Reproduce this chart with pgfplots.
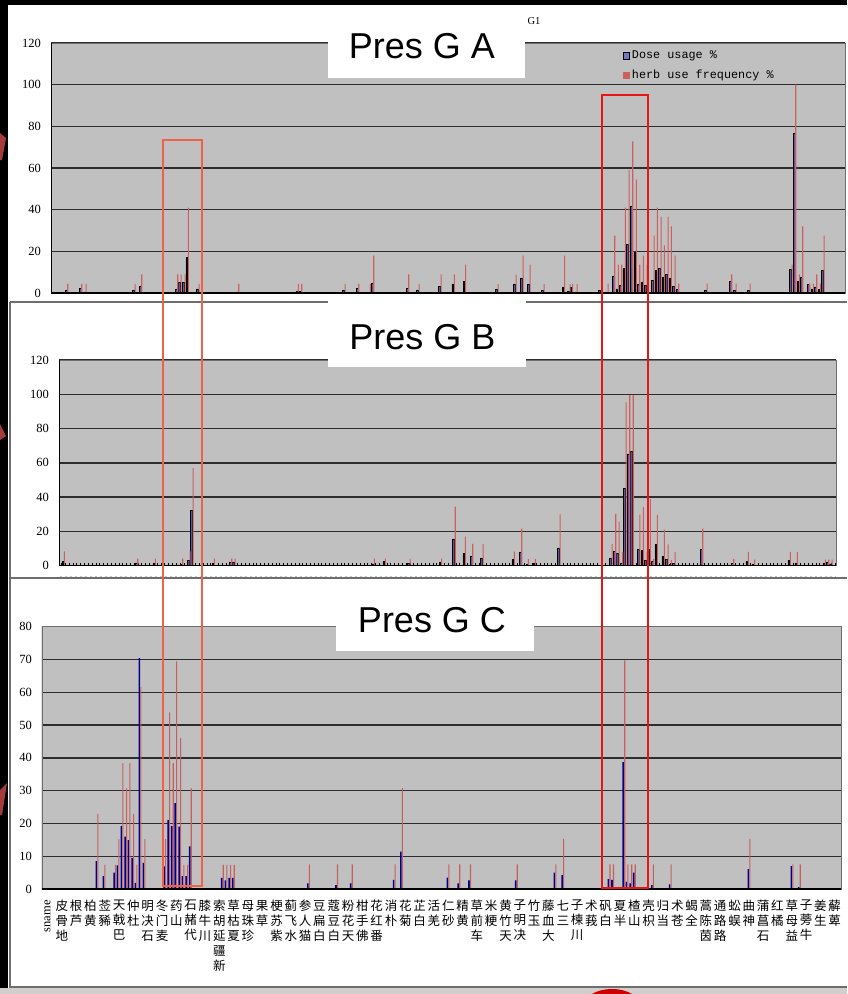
\documentclass[border=0pt]{standalone}
\usepackage{fontspec}
\setmainfont{Liberation Serif}
\newfontfamily\sansf{Liberation Sans}
\newfontfamily\monof{Liberation Mono}
\newfontfamily\cjk{Noto Sans CJK SC}
\usepackage{graphicx}
\usepackage{pgfplots}
\pgfplotsset{compat=1.18}
\usepackage{pgfplotstable}

\definecolor{plotbg}{RGB}{192,192,192}
\definecolor{doseA}{RGB}{85,85,175}
\definecolor{freqA}{RGB}{205,95,95}
\definecolor{doseC}{RGB}{0,0,140}
\definecolor{freqC}{RGB}{200,95,95}
\definecolor{boxone}{RGB}{240,98,72}
\definecolor{boxtwo}{RGB}{235,20,20}
\definecolor{gridc}{RGB}{45,45,45}
\definecolor{framec}{RGB}{110,110,110}
\definecolor{arrowc}{RGB}{165,60,60}
\definecolor{bandc}{RGB}{210,206,204}

\pgfplotstableread{
x d f
66.7 1.1 4.4
80.7 2.3 4.4
85 0.5 4.4
134 1.1 4.4
140.7 3 8.9
176.7 2 8.9
180 5 8.9
184 5 8.9
187.3 17 41
198 2 4.4
237.7 0.5 4.4
297.3 0.6 4.4
300.7 0.6 4.4
344 1.5 4.4
357.7 2.3 4.4
369.3 0.4 4.4
372.7 4.7 18
407.7 2.3 8.9
418 1.5 4.4
440 3 8.9
453.3 4.4 8.9
464.6 5.4 13.6
497 1.9 4.3
515 4.3 8.8
522 6.9 18
529 4 13.6
543 1.1 4.3
563.5 2.9 18
569 1 4.3
571.6 2.6 4.3
576 0.5 4.3
600 1.1 0
607 0.3 4.5
613.7 8 27.5
617.3 2 13.6
620.7 3.5 13.6
624.3 11.7 41
628 23.2 59
631.7 41.4 72.8
635.3 19.5 54.4
638.7 4 13.6
642.3 5.1 18
646 3.5 13.6
653 6.2 27.5
656.3 10.7 41
660 12 36.6
663.3 7.4 22.9
667 9.1 36.6
670.3 7 32
674 3.2 18
677.7 1.6 4.5
706 1.3 4.5
730.7 5.6 9
735 1.3 4.5
749 1.3 4.5
791 11.2 13.6
794.7 76.5 100
798.3 5.6 9
801.7 7.5 32
808.7 4 4.5
812.3 2 4.5
815.7 2.9 9
819.3 1.6 4.5
823 10.7 27.5
}\tA

\pgfplotstableread{
x d f
63.3 2.4 8.4
136.7 1.6 4.1
154.3 1.2 4.1
181.7 1 4.1
189 3.1 8.4
192 32.4 56.9
213.3 1.2 4.1
230.7 1.8 4.1
234 1.8 4.1
373.3 1 4.1
384.3 2.5 4.1
409 1.2 4.1
440.5 2.2 4.1
454.2 15.6 34.4
464.3 7 17
471.7 5.5 12.7
482 4.1 12.7
513.3 3.7 8.2
520.7 7.6 21.6
527.3 0.8 4
534.3 1.2 4
559 10.4 30
611 4.2 12.6
614.7 8.4 30.3
618 7 25.7
621.7 1.6 8.1
625 45 95.3
628.7 65.2 99.6
632.2 66.8 99.6
638.8 9.4 29.8
642.3 8.9 34.2
646 2.9 8
649.3 9.4 39
652.7 2.3 4
656.3 12.5 29.7
663.3 5.5 21
667 3.5 12.5
670.3 0.8 3.3
674 1.2 8
701.7 9.6 21.6
732.7 1.2 4
747.3 2.5 8
753.5 0.6 3.5
789.3 3 8
796.3 1.6 8
824.3 1.2 3.5
827.7 2.1 3.5
831 1 3.5
}\tB

\pgfplotstableread{
x d f
97 8.5 22.9
104 3.9 7.4
114.7 5 7.4
118 7.2 15.2
122 19.2 38.4
125.7 16 30.7
129 14.9 38.4
132.7 9.5 22.9
136 1.9 7.4
140 70.4 61.6
144 8 15.2
164.7 6.9 15.2
168.7 21 53.9
172.3 19.2 38.4
175.7 26.2 69.4
179.7 19 46
183 3.9 7.4
186.7 3.9 7.4
190.3 13 30.7
222.3 3.4 7.4
226 2.6 7.4
229.7 3.4 7.4
233.3 3.4 7.4
308.4 1.7 7.5
336.6 1.2 7.5
351.3 1.7 7.5
394.2 2.8 7.5
401.5 11.4 30.8
448 3.5 7.5
458.8 1.7 7.5
469.6 2.6 7.5
516.3 2.6 7.5
555 5 7.5
562.7 4.2 15.3
609.1 3 7.5
612.6 2.8 7.5
623.8 38.7 69.7
627 2.2 7.5
630.8 1.7 7.5
634.3 5 7.5
652.4 1.2 7.5
670.2 1.4 7.5
749 6.1 15.3
792 7 7.5
799.3 0.6 7.5
}\tC

\pgfplotsset{
  panel/.style={scale only axis, anchor=south west, ymin=0,
    axis background/.style={fill=plotbg},
    ymajorgrids, grid style={gridc, line width=1.3pt},
    axis line style={draw=framec, line width=0.8pt},
    xtick=\empty, major tick length=0pt,
    yticklabel style={font=\fontsize{12.5}{12.5}\selectfont, anchor=east, inner sep=0pt, xshift=-10pt},
    /pgf/number format/assume math mode=true, ytick pos=left},
  sDoseA/.style={ybar, bar width=1.6pt, bar shift=-0.7pt, fill=doseA, draw=black, line width=0.6pt},
  sFreqA/.style={ybar, bar width=1.1pt, bar shift=1.05pt, fill=freqA, draw=none},
  sDoseC/.style={ybar, bar width=1.6pt, bar shift=-0.6pt, fill=doseC, draw=none},
  sFreqC/.style={ybar, bar width=1.1pt, bar shift=0.9pt, fill=freqC, draw=none},
}

\begin{document}
\begin{tikzpicture}
\useasboundingbox (0pt,0pt) rectangle (847pt,-994pt);
\begin{scope}[x=1pt,y=-1pt]
  \fill[white] (0,0) rectangle (847,994);
  \fill[bandc] (0,988) rectangle (847,994);
  \fill[red!80!black] (612,1008) ellipse (30 and 19);
  \fill[black] (0,0) rectangle (847,4.5);
  \fill[black] (0,0) rectangle (8,988);
  \draw[framec, line width=1.2pt] (10,302) -- (847,302);
  \draw[framec, line width=1.2pt] (10,578) -- (847,578);
  \draw[framec, line width=1.2pt] (10,302) -- (10,987) -- (847,987);
  \draw[gray!45, line width=1pt, dash pattern=on 2pt off 3pt] (60,576) -- (836,576);
\end{scope}

% Panel A
\begin{axis}[panel, at={(51pt,-293pt)}, width=794pt, height=250pt,
  xmin=51, xmax=845, ymax=120, ytick={0,20,...,120},
  legend style={at={(0.72,0.978)}, anchor=north west, draw=none, fill=none,
    inner sep=0pt, font=\monof\fontsize{11.8}{13}\selectfont, row sep=6pt},
  legend cell align=left]
\addplot[sDoseA, legend image code/.code={\draw[fill=doseA!80!white,draw=black,line width=0.6pt] (0pt,-3.5pt) rectangle (6.5pt,3.5pt);}] table[x=x,y=d]{\tA};
\addlegendentry{Dose usage \%}
\addplot[sFreqA, legend image code/.code={\fill[freqA] (0pt,-3.5pt) rectangle (6.5pt,3.5pt);}] table[x=x,y=f]{\tA};
\addlegendentry{herb use frequency \%}
\draw[black, line width=1.5pt] (rel axis cs:0,0) -- (rel axis cs:1,0);
\draw[black, line width=1pt] (rel axis cs:0,0) -- (rel axis cs:0,1);
\end{axis}

% Panel B
\begin{axis}[panel, at={(59pt,-565.7pt)}, width=777pt, height=205.7pt,
  xmin=59, xmax=836, ymax=120, ytick={0,20,...,120},
  xtick={61.5,65.33,...,835}, xticklabels={}, major tick length=2.5pt,
  tick align=inside, xtick pos=left, xtick style={black, line width=0.9pt},
  ytick style={draw=none}]
\addplot[sDoseA] table[x=x,y=d]{\tB};
\addplot[sFreqA] table[x=x,y=f]{\tB};
\draw[black, line width=1.5pt] (rel axis cs:0,0) -- (rel axis cs:1,0);
\draw[black, line width=1pt] (rel axis cs:0,0) -- (rel axis cs:0,1);
\end{axis}

% Panel C
\begin{axis}[panel, at={(42pt,-889pt)}, width=799pt, height=262.3pt,
  xmin=42, xmax=841, ymax=80, ytick={0,10,...,80},
  xtick={47.5,61.813,...,835},
  xticklabel style={align=center, anchor=north, inner sep=0pt, yshift=-11pt,
    font=\cjk\fontsize{12.5}{15}\selectfont},
  xticklabels={{\rmfamily\rotatebox{90}{sname}},{皮\\骨\\地},{根\\芦},{柏\\黄},{莶\\豨},{天\\戟\\巴},{仲\\杜},{明\\决\\石},{冬\\门\\麦},{药\\山},{石\\赭\\代},{膝\\牛\\川},{索\\胡\\延\\疆\\新},{草\\枯\\夏},{母\\珠\\珍},{果\\草},{梗\\苏\\紫},{蓟\\飞\\水},{参\\人\\猫},{豆\\扁\\白},{蔻\\豆\\白},{粉\\花\\天},{柑\\手\\佛},{花\\红\\番},{消\\朴},{花\\菊},{芷\\白},{活\\羌},{仁\\砂},{精\\黄},{草\\前\\车},{米\\粳},{黄\\竹\\天},{子\\明\\决},{竹\\玉},{藤\\血\\大},{七\\三},{子\\楝\\川},{术\\莪},{矾\\白},{夏\\半},{楂\\山},{壳\\枳},{归\\当},{术\\苍},{蝎\\全},{蒿\\陈\\茵},{通\\路\\路},{蚣\\蜈},{曲\\神},{蒲\\菖\\石},{红\\橘},{草\\母\\益},{子\\蒡\\牛},{姜\\生},{薢\\萆}}]
\addplot[sDoseC] table[x=x,y=d]{\tC};
\addplot[sFreqC] table[x=x,y=f]{\tC};
\draw[black, line width=1.5pt] (rel axis cs:0,0) -- (rel axis cs:1,0);
\draw[black, line width=1pt] (rel axis cs:0,0) -- (rel axis cs:0,1);
\end{axis}

\begin{scope}[x=1pt,y=-1pt]
  \fill[white] (328,20) rectangle (525,77.7);
  \node[anchor=base, inner sep=0pt, font=\sansf\fontsize{36}{36}\selectfont] at (422,58.3) {Pres G A};
  \fill[white] (328,299) rectangle (526,366.7);
  \node[anchor=base, inner sep=0pt, font=\sansf\fontsize{36}{36}\selectfont] at (422.5,349) {Pres G B};
  \fill[white] (336,584) rectangle (534,651);
  \node[anchor=base, inner sep=0pt, font=\sansf\fontsize{36}{36}\selectfont] at (432,632.3) {Pres G C};
  \node[anchor=base, inner sep=0pt, font=\fontsize{10.5}{10.5}\selectfont] at (534,24) {G1};
  \draw[boxone, line width=2pt] (163,139.5) rectangle (202,885.5);
  \draw[boxtwo, line width=2pt] (602,95) rectangle (648,887.5);
  \fill[arrowc] (0,133) -- (6,138) -- (2,160) -- (0,160) -- cycle;
  \fill[arrowc] (0,424) -- (6,436) -- (0,440) -- cycle;
  \fill[arrowc] (0,790) -- (7,783) -- (2,815) -- (0,815) -- cycle;
\end{scope}
\end{tikzpicture}
\end{document}
